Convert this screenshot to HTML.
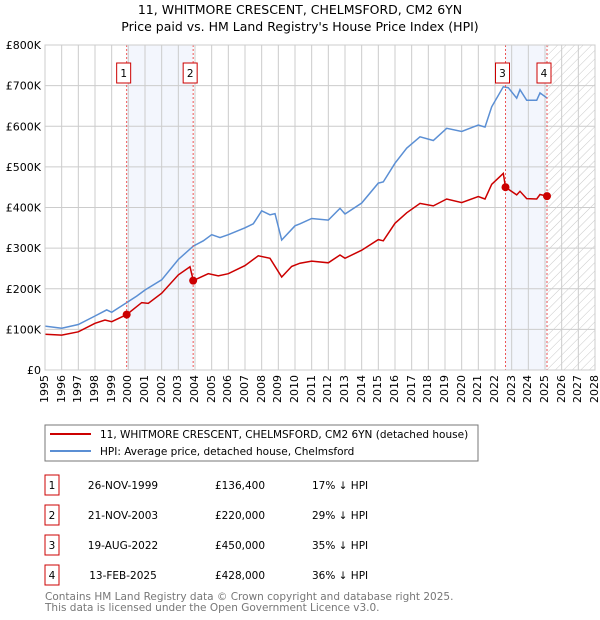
<!DOCTYPE html>
<html><head><meta charset="utf-8"><style>
body{margin:0;background:#fff;}
#wrap{position:relative;width:600px;height:620px;}
svg{position:absolute;left:0;top:0;}
svg text{font-family:"DejaVu Sans","Liberation Sans",sans-serif;}
.xl{position:absolute;top:375px;width:14px;font:11px "DejaVu Sans","Liberation Sans",sans-serif;line-height:14px;writing-mode:vertical-rl;transform:rotate(180deg);white-space:nowrap;}
</style></head><body>
<div id="wrap">
<svg id="c" width="600" height="620" xmlns="http://www.w3.org/2000/svg">
<defs><pattern id="hatch" patternUnits="userSpaceOnUse" width="6" height="6" patternTransform="rotate(45)"><line x1="0" y1="0" x2="0" y2="6" stroke="#bbb" stroke-width="0.8"/></pattern></defs>
<text x="300" y="14" text-anchor="middle" font-size="12.5">11, WHITMORE CRESCENT, CHELMSFORD, CM2 6YN</text>
<text x="300" y="31" text-anchor="middle" font-size="12.5">Price paid vs. HM Land Registry's House Price Index (HPI)</text>
<g id="plot"></g>
<rect x="45" y="425" width="433" height="36" fill="#fff" stroke="#777"/>
<line x1="50" y1="434" x2="91" y2="434" stroke="#cc0000" stroke-width="2"/>
<text x="100" y="438" font-size="10.5">11, WHITMORE CRESCENT, CHELMSFORD, CM2 6YN (detached house)</text>
<line x1="50" y1="451" x2="91" y2="451" stroke="#5b8fd4" stroke-width="2"/>
<text x="100" y="455" font-size="10.5">HPI: Average price, detached house, Chelmsford</text>
<g id="table" font-size="10.5"></g>
<text x="45" y="600" font-size="10.5" fill="#777">Contains HM Land Registry data © Crown copyright and database right 2025.</text>
<text x="45" y="611" font-size="10.5" fill="#777">This data is licensed under the Open Government Licence v3.0.</text>
</svg>
</div>
<script>
const yearTicks=[1995,1996,1997,1998,1999,2000,2001,2002,2003,2004,2005,2006,2007,2008,2009,2010,2011,2012,2013,2014,2015,2016,2017,2018,2019,2020,2021,2022,2023,2024,2025,2026,2027,2028];
const valueTicks=[0,100,200,300,400,500,600,700,800];
const valueLabels=["£0","£100K","£200K","£300K","£400K","£500K","£600K","£700K","£800K"];
const hpiYears=[1995,1996,1997,1998,1998.7,1999,1999.9,2000.5,2001,2002,2003,2003.9,2004.5,2005,2005.5,2006,2007,2007.5,2008,2008.5,2008.8,2009.2,2010,2010.3,2011,2012,2012.7,2013,2014,2015,2015.3,2016,2016.7,2017.5,2018.3,2019.1,2020,2021,2021.4,2021.8,2022.5,2022.8,2023.3,2023.5,2023.9,2024.5,2024.7,2025.1];
const hpiValues=[108,103,112,133,148,142,166,182,197,222,272,305,318,333,326,333,350,360,392,382,385,320,355,360,373,369,398,384,411,460,463,509,546,574,565,595,587,603,598,648,697,695,669,690,664,664,682,670];
const propYears=[1995,1996,1997,1998,1998.6,1999,1999.9,2000.8,2001.2,2002,2003,2003.7,2003.9,2004.8,2005.4,2006,2007,2007.8,2008.5,2009.2,2009.8,2010.3,2011,2012,2012.7,2013,2014,2015,2015.3,2016,2016.7,2017.5,2018.3,2019.1,2020,2021,2021.4,2021.8,2022.5,2022.63,2023.3,2023.5,2023.9,2024.5,2024.7,2025.12];
const propValues=[88,86,94,115,123,119,136.4,166,164,189,234,254,220,237,232,237,257,281,275,229,255,263,268,264,283,275,295,321,318,361,387,410,404,421,412,427,421,457,484,450,431,440,422,421,432,428];
const saleYears=[1999.9,2003.89,2022.63,2025.12];
const salePrices=[136.4,220,450,428];
const saleLabels=["1","2","3","4"];
const saleDates=["26-NOV-1999","21-NOV-2003","19-AUG-2022","13-FEB-2025"];
const salePriceText=["£136,400","£220,000","£450,000","£428,000"];
const saleDiff=["17% ↓ HPI","29% ↓ HPI","35% ↓ HPI","36% ↓ HPI"];
const X0=45,X1=595,Y0=370,Y1=45;
const xs=y=>X0+(y-1995)*(X1-X0)/33;
const ys=v=>Y0-v*(Y0-Y1)/800;
const NS="http://www.w3.org/2000/svg";
const plot=document.getElementById('plot');
const wrap=document.getElementById('wrap');
function mk(tag,at,parent){const e=document.createElementNS(NS,tag);for(const k in at)e.setAttribute(k,at[k]);(parent||plot).appendChild(e);return e;}
let e;
e=mk('rect',{x:X0,y:Y1,width:X1-X0,height:Y0-Y1,fill:'#fff'});


e=mk('rect',{x:xs(saleYears[0]),y:Y1,width:xs(saleYears[1])-xs(saleYears[0]),height:Y0-Y1,fill:'#f3f6fd'});


e=mk('rect',{x:xs(saleYears[2]),y:Y1,width:xs(saleYears[3])-xs(saleYears[2]),height:Y0-Y1,fill:'#f3f6fd'});


e=mk('rect',{x:xs(saleYears[3]),y:Y1,width:X1-xs(saleYears[3]),height:Y0-Y1,fill:'url(#hatch)'});


yearTicks.forEach(y=>{
 e=mk('line',{x1:xs(y),x2:xs(y),y1:Y1,y2:Y0,stroke:'#ccc','stroke-width':1});
 
 
 const d=document.createElement('div');
 d.className='xl';
 d.style.left=(xs(y)-7)+'px';
 d.textContent=y;
 
 
 wrap.appendChild(d);
});
valueTicks.forEach((v,i)=>{
 e=mk('line',{x1:X0,x2:X1,y1:ys(v),y2:ys(v),stroke:'#ccc','stroke-width':1});
 
 
 e=mk('text',{x:X0-4,y:ys(v)+4,'font-size':11,'text-anchor':'end'});
 e.textContent=valueLabels[i];
 
 
});
e=mk('path',{d:hpiYears.map((y,i)=>(i?'L':'M')+xs(y).toFixed(1)+','+ys(hpiValues[i]).toFixed(1)).join(''),fill:'none',stroke:'#5b8fd4','stroke-width':1.5});


e=mk('path',{d:propYears.map((y,i)=>(i?'L':'M')+xs(y).toFixed(1)+','+ys(propValues[i]).toFixed(1)).join(''),fill:'none',stroke:'#cc0000','stroke-width':1.5});


saleYears.forEach((y,i)=>{
 e=mk('line',{x1:xs(y),x2:xs(y),y1:Y1,y2:Y0,stroke:'#e55','stroke-width':1,'stroke-dasharray':'2,2'});
 
 
 e=mk('rect',{x:xs(y)-10,y:63,width:14,height:20,fill:'#fff',stroke:'#cc0000'});
 
 
 e=mk('text',{x:xs(y)-3,y:77,'font-size':10.5,'text-anchor':'middle'});
 e.textContent=saleLabels[i];
 
 
 e=mk('circle',{cx:xs(y),cy:ys(salePrices[i]),r:4,fill:'#cc0000'});
 
 
});
e=mk('rect',{x:X0,y:Y1,width:X1-X0,height:Y0-Y1,fill:'none',stroke:'#ccc'});


const tb=document.getElementById('table');
saleLabels.forEach((l,i)=>{
 const cy=485+i*30;
 e=mk('rect',{x:45,y:cy-10,width:14,height:20,fill:'#fff',stroke:'#cc0000'},tb);
 
 
 e=mk('text',{x:52,y:cy+4,'text-anchor':'middle'},tb);e.textContent=l;
 
 
 e=mk('text',{x:123,y:cy+4,'text-anchor':'middle'},tb);e.textContent=saleDates[i];
 
 
 e=mk('text',{x:240,y:cy+4,'text-anchor':'middle'},tb);e.textContent=salePriceText[i];
 
 
 e=mk('text',{x:312,y:cy+4},tb);e.textContent=saleDiff[i];
 
 
});
</script>
</body></html>
